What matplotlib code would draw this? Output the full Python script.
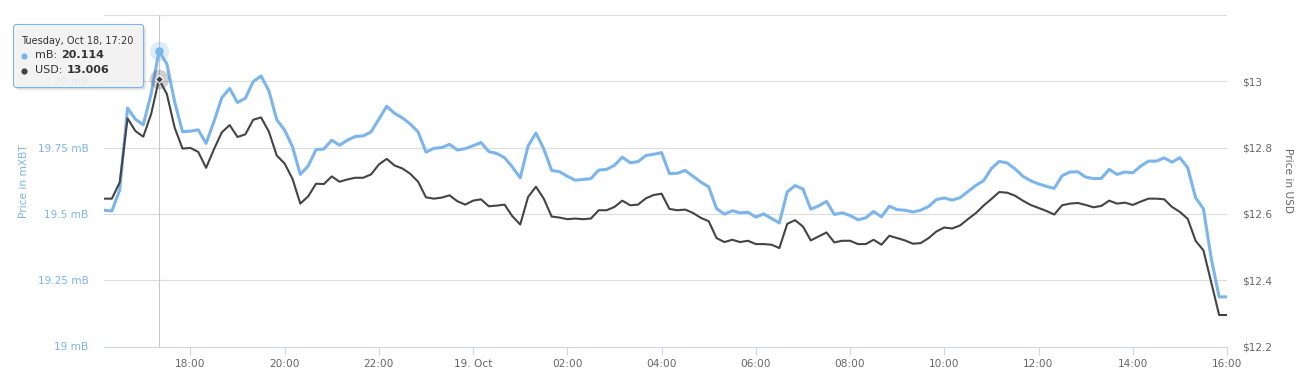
import pandas as pd
import matplotlib
matplotlib.use('Agg')
import matplotlib.pyplot as plt
import matplotlib.dates as mdates
from matplotlib.ticker import FixedLocator, FuncFormatter
from matplotlib.patches import FancyBboxPatch

plt.rcParams['font.family'] = 'DejaVu Sans'

# one point every 10 minutes, Oct 18 16:10 -> Oct 19 16:00
times = pd.date_range('2016-10-18 16:10', '2016-10-19 16:00', freq='10min')

# price in mXBT (left axis)
price_mb = [
    19.514, 19.511, 19.590, 19.899, 19.857, 19.836, 19.952, 20.114, 20.066, 19.922,
    19.810, 19.812, 19.817, 19.766, 19.848, 19.938, 19.973, 19.920, 19.936, 19.999,
    20.020, 19.964, 19.855, 19.816, 19.753, 19.649, 19.681, 19.742, 19.745, 19.778,
    19.759, 19.778, 19.792, 19.794, 19.809, 19.857, 19.906, 19.879, 19.862, 19.839,
    19.809, 19.733, 19.747, 19.750, 19.762, 19.741, 19.746, 19.757, 19.769, 19.735,
    19.728, 19.712, 19.677, 19.636, 19.756, 19.805, 19.745, 19.664, 19.659, 19.642,
    19.627, 19.630, 19.633, 19.665, 19.668, 19.683, 19.714, 19.693, 19.697, 19.720,
    19.725, 19.731, 19.652, 19.653, 19.664, 19.642, 19.620, 19.602, 19.520, 19.499,
    19.512, 19.504, 19.506, 19.488, 19.500, 19.483, 19.466, 19.583, 19.607, 19.594,
    19.518, 19.530, 19.547, 19.498, 19.504, 19.494, 19.478, 19.485, 19.509, 19.489,
    19.529, 19.516, 19.514, 19.507, 19.514, 19.528, 19.554, 19.560, 19.552, 19.561,
    19.584, 19.607, 19.625, 19.671, 19.698, 19.692, 19.670, 19.642, 19.625, 19.613,
    19.604, 19.596, 19.644, 19.658, 19.659, 19.639, 19.633, 19.634, 19.668, 19.649,
    19.658, 19.655, 19.680, 19.699, 19.699, 19.711, 19.695, 19.712, 19.674, 19.561,
    19.519, 19.331, 19.187, 19.187,
]

# price in USD (right axis)
price_usd = [
    12.646, 12.646, 12.695, 12.888, 12.850, 12.833, 12.901, 13.006, 12.962, 12.860,
    12.797, 12.799, 12.787, 12.739, 12.795, 12.846, 12.868, 12.832, 12.840, 12.884,
    12.891, 12.848, 12.776, 12.752, 12.706, 12.631, 12.653, 12.691, 12.690, 12.713,
    12.697, 12.704, 12.709, 12.709, 12.719, 12.749, 12.766, 12.746, 12.737, 12.721,
    12.697, 12.650, 12.646, 12.649, 12.656, 12.638, 12.628, 12.640, 12.644, 12.623,
    12.625, 12.628, 12.593, 12.568, 12.651, 12.682, 12.646, 12.592, 12.589, 12.584,
    12.586, 12.584, 12.586, 12.611, 12.611, 12.621, 12.640, 12.626, 12.628, 12.647,
    12.657, 12.661, 12.615, 12.611, 12.613, 12.603, 12.588, 12.578, 12.527, 12.515,
    12.522, 12.515, 12.519, 12.509, 12.509, 12.507, 12.497, 12.570, 12.581, 12.562,
    12.520, 12.532, 12.544, 12.514, 12.519, 12.519, 12.509, 12.509, 12.522, 12.507,
    12.534, 12.527, 12.520, 12.510, 12.512, 12.527, 12.547, 12.559, 12.556, 12.565,
    12.584, 12.602, 12.625, 12.645, 12.666, 12.664, 12.655, 12.640, 12.627, 12.618,
    12.609, 12.598, 12.626, 12.631, 12.633, 12.627, 12.620, 12.624, 12.640, 12.631,
    12.634, 12.627, 12.637, 12.646, 12.646, 12.644, 12.621, 12.606, 12.585, 12.519,
    12.490, 12.392, 12.295, 12.295,
]

mb_ticks = [19, 19.25, 19.5, 19.75, 20, 20.25]
usd_ticks = [12.2, 12.4, 12.6, 12.8, 13.0, 13.2]
hover = 7  # point under the tooltip

BLUE = '#7cb5ec'
DARK = '#434348'
W, H = 1310, 374

fig = plt.figure(figsize=(W / 100, H / 100), dpi=100)
ax = fig.add_axes([104 / W, 1 - 346.5 / H, 1123 / W, 331.5 / H])
ax2 = ax.twinx()

ax.plot(times, price_mb, color=BLUE, lw=2.2, solid_joinstyle='round')
ax2.plot(times, price_usd, color=DARK, lw=1.5, solid_joinstyle='round')

ax.set_xlim(times[0], times[-1])
ax.set_ylim(mb_ticks[0], mb_ticks[-1])
ax2.set_ylim(usd_ticks[0], usd_ticks[-1])

# crosshair + hover markers
ax.axvline(times[hover], color='#c8c8c8', lw=0.8, zorder=1)
ax.plot(times[hover], price_mb[hover], 'o', ms=14, color=BLUE, alpha=0.25, mec='none')
ax.plot(times[hover], price_mb[hover], 'o', ms=6, color=BLUE, mec='none')
ax2.plot(times[hover], price_usd[hover], 'o', ms=14, color=DARK, alpha=0.25, mec='none')
ax2.plot(times[hover], price_usd[hover], 'D', ms=4.5, color=DARK, mec='white', mew=0.8)

# x axis
ax.xaxis.set_major_locator(mdates.HourLocator(byhour=range(0, 24, 2)))
ax.xaxis.set_major_formatter(FuncFormatter(
    lambda v, p: '19. Oct' if mdates.num2date(v).hour == 0 else mdates.num2date(v).strftime('%H:%M')))
ax.tick_params(axis='x', length=6, width=0.8, color='#ccd6eb', labelcolor='#666666',
               labelsize=7.6, pad=3)

# y axes
ax.yaxis.set_major_locator(FixedLocator(mb_ticks))
ax.yaxis.set_major_formatter(FuncFormatter(lambda v, p: '' if v > 20.1 else f'{v:g} mB'))
ax.tick_params(axis='y', length=0, labelcolor=BLUE, labelsize=7.6, pad=11)
ax2.yaxis.set_major_locator(FixedLocator(usd_ticks))
ax2.yaxis.set_major_formatter(FuncFormatter(lambda v, p: '' if v > 13.1 else f'\\${v:g}'))
ax2.tick_params(axis='y', length=0, labelcolor='#666666', labelsize=7.6, pad=11)

ax.grid(axis='y', color='#dcdcdc', lw=0.8)
ax.set_axisbelow(True)
for a in (ax, ax2):
    for s in ('top', 'left', 'right', 'bottom'):
        a.spines[s].set_visible(False)
ax.spines['bottom'].set_visible(True)
ax.spines['bottom'].set_color('#ccd6eb')
ax.spines['bottom'].set_linewidth(0.8)

ax.text(-0.0712, 0.5, 'Price in mXBT', transform=ax.transAxes, rotation=90,
        ha='center', va='center', color=BLUE, fontsize=7.6)
ax2.text(1.0543, 0.5, 'Price in USD', transform=ax.transAxes, rotation=270,
         ha='center', va='center', color='#666666', fontsize=7.6)

# tooltip, drawn in pixel coordinates on top of everything
ov = fig.add_axes([0, 0, 1, 1], zorder=10)
ov.set_xlim(0, W)
ov.set_ylim(H, 0)
ov.axis('off')
for k in range(3):
    ov.add_patch(FancyBboxPatch((14.5 + k, 25.5 + k), 130, 63,
                                boxstyle='round,pad=0,rounding_size=3',
                                fc='black', ec='none', alpha=0.05))
ov.add_patch(FancyBboxPatch((13.5, 24.5), 130, 63, boxstyle='round,pad=0,rounding_size=3',
                            fc=(247 / 255, 247 / 255, 247 / 255, 0.85), ec=BLUE, lw=0.8))
ov.text(21, 41, times[hover].strftime('%A, %b %d, %H:%M'), fontsize=7, color='#333333',
        va='center', ha='left')
ov.plot(24, 55.5, 'o', ms=4.5, color=BLUE, mec='none')
ov.text(35, 55, 'mB:', fontsize=8, color='#333333', va='center')
ov.text(61, 55, f'{price_mb[hover]:.3f}', fontsize=8, color='#333333', va='center',
        fontweight='bold')
ov.plot(24, 70.5, 'o', ms=4.5, color=DARK, mec='none')
ov.text(35, 70, 'USD:', fontsize=8, color='#333333', va='center')
ov.text(67, 70, f'{price_usd[hover]:.3f}', fontsize=8, color='#333333', va='center',
        fontweight='bold')

fig.savefig('out.png', dpi=100, facecolor='white')
